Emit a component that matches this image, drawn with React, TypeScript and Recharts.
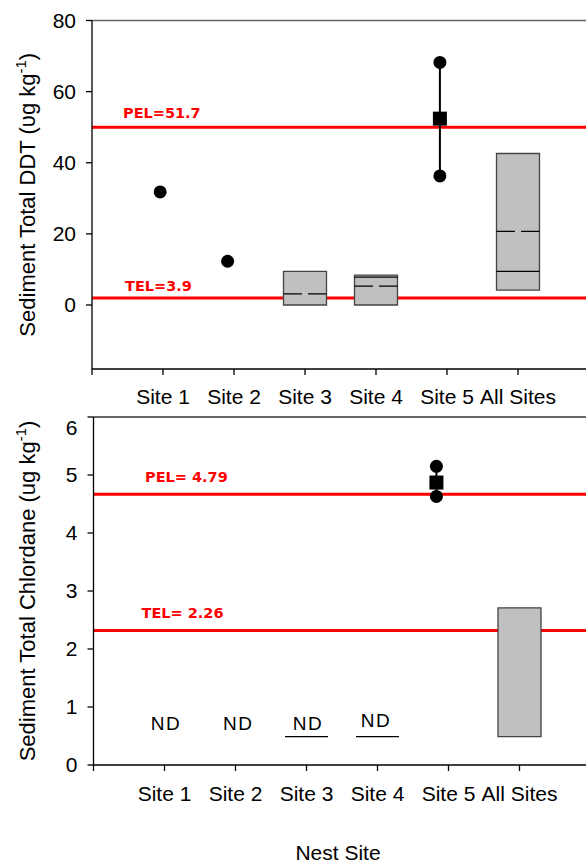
import React from 'react';
import { ComposedChart, XAxis, YAxis, Bar, Scatter, ReferenceLine, ErrorBar } from 'recharts';

// categories on a numeric x axis (0 is the axis origin, unlabeled)
const siteNames = ['', 'Site 1', 'Site 2', 'Site 3', 'Site 4', 'Site 5', 'All Sites'];
const siteTicks = [0, 1, 2, 3, 4, 5, 6];

// ---- top panel: total DDT ----
const ddtTicks = [0, 20, 40, 60, 80];
const ddtSingles = [
  { x: 0.96, y: 31.8 },
  { x: 1.91, y: 12.3 },
];
const ddtSite5Ends = [
  { x: 4.9, y: 36.3 },
  { x: 4.9, y: 68.2 },
];
const ddtSite5Mean = { x: 4.9, y: 52.4 };
const ddtBoxes = [
  { x: 3, range: [0, 9.45] },
  { x: 4, range: [0, 8.4] },
  { x: 6, range: [4.2, 42.6] },
];
const ddtMedians = [
  { x: 4, y: 7.85 },
  { x: 6, y: 9.45 },
];
const ddtMeans = [
  { x: 3, y: 3.1 },
  { x: 4, y: 5.3 },
  { x: 6, y: 20.7 },
];
const ddtPel = 50;
const ddtTel = 2;

// ---- bottom panel: total chlordane ----
const chlTicks = [0, 1, 2, 3, 4, 5, 6];
const chlSite5Ends = [
  { x: 4.83, y: 4.63 },
  { x: 4.83, y: 5.15 },
];
const chlSite5Mean = { x: 4.83, y: 4.87 };
const chlBoxes = [{ x: 6, range: [0.49, 2.71] }];
const chlLimits = [
  { x: 3, y: 0.49 },
  { x: 4, y: 0.49 },
];
const chlNd = [
  { x: 1.02, y: 0.72 },
  { x: 2.04, y: 0.72 },
  { x: 3.02, y: 0.71 },
  { x: 3.98, y: 0.77 },
];
const chlPel = 4.67;
const chlTel = 2.32;

const FONT = '"Liberation Sans", Arial, sans-serif';
const LABEL_FONT = '"DejaVu Sans", sans-serif';

// one row per site so the bars get a full category band
const boxRows = (boxes: { x: number; range: number[] }[]) =>
  siteTicks.slice(1).map((x) => ({ x, range: boxes.find((b) => b.x === x)?.range ?? null }));

const withErr = (m: { x: number; y: number }, ends: { y: number }[]) => [
  { ...m, err: [m.y - ends[0].y, ends[1].y - m.y] },
];

const Dot = (p: any) => <circle cx={p.cx} cy={p.cy} r={6.5} fill="#000" />;
const Square = (p: any) => <rect x={p.cx - 7} y={p.cy - 7} width={14} height={14} fill="#000" />;
const MedianLine = (p: any) => (
  <line x1={p.cx - 21.5} x2={p.cx + 21.5} y1={p.cy} y2={p.cy} stroke="#000" strokeWidth={1.3} />
);
const MeanLine = (p: any) => (
  <line
    x1={p.cx - 21.5}
    x2={p.cx + 21.5}
    y1={p.cy}
    y2={p.cy}
    stroke="#000"
    strokeWidth={1.3}
    strokeDasharray="18.5 6"
  />
);
const NdText = (p: any) => (
  <text
    x={p.cx}
    y={p.cy}
    textAnchor="middle"
    dominantBaseline="central"
    fontSize={19}
    letterSpacing={1.5}
    fontFamily={FONT}
    fill="#000"
  >
    ND
  </text>
);

const RefLabel = ({ viewBox, text, dx, dy }: any) => (
  <text
    x={(viewBox?.x ?? 0) + dx}
    y={(viewBox?.y ?? 0) + dy}
    fill="#ff0000"
    fontSize={14.5}
    fontWeight="bold"
    fontFamily={LABEL_FONT}
  >
    {text}
  </text>
);

const YTitle = ({ viewBox, main, unit }: any) => {
  const x = 35;
  const y = (viewBox?.y ?? 0) + (viewBox?.height ?? 0) / 2;
  return (
    <text
      x={x}
      y={y}
      transform={`rotate(-90 ${x} ${y})`}
      textAnchor="middle"
      fontSize={22}
      fontFamily={FONT}
      fill="#000"
    >
      <tspan>{`${main} (${unit} kg`}</tspan>
      <tspan fontSize={15} dy={-9}>
        -1
      </tspan>
      <tspan dy={9}>)</tspan>
    </text>
  );
};

const XTitle = ({ viewBox }: any) => (
  <text
    x={(viewBox?.x ?? 0) + (viewBox?.width ?? 0) / 2 - 4}
    y={(viewBox?.y ?? 0) + (viewBox?.height ?? 0) - 5}
    textAnchor="middle"
    fontSize={21}
    fontFamily={FONT}
    fill="#000"
  >
    Nest Site
  </text>
);

const axisStyle = { stroke: '#000', strokeWidth: 1.3 };
const tickStyle = { fontSize: 21, fill: '#000', fontFamily: FONT };

export default function App() {
  return (
    <div
      style={{
        position: 'absolute',
        left: 0,
        top: 0,
        width: 586,
        height: 865,
        overflow: 'hidden',
        background: '#fff',
        fontFamily: FONT,
      }}
    >
      <div style={{ position: 'absolute', left: 0, top: 0 }}>
        <ComposedChart
          width={600}
          height={415}
          data={boxRows(ddtBoxes)}
          margin={{ top: 20.5, right: 11, bottom: 0, left: 0 }}
        >
          <XAxis
            dataKey="x"
            type="number"
            domain={[0, 7]}
            ticks={siteTicks}
            interval={0}
            tickFormatter={(v: number) => siteNames[v] ?? ''}
            height={46}
            tickSize={6}
            tickMargin={14}
            axisLine={axisStyle}
            tickLine={axisStyle}
            tick={tickStyle}
          />
          <XAxis xAxisId="box" dataKey="x" type="number" domain={[0, 7]} ticks={siteTicks} hide />
          <YAxis
            type="number"
            domain={[-18, 80]}
            ticks={ddtTicks}
            width={92}
            tickSize={6}
            tickMargin={10}
            axisLine={axisStyle}
            tickLine={axisStyle}
            tick={tickStyle}
            label={<YTitle main="Sediment Total DDT" unit="υg" />}
          />
          <ReferenceLine y={80} stroke="#666" strokeWidth={1.5} />
          <ReferenceLine
            y={ddtPel}
            stroke="#ff0000"
            strokeWidth={3}
            zIndex={250}
            label={<RefLabel text="PEL=51.7" dx={31} dy={-9} />}
          />
          <ReferenceLine
            y={ddtTel}
            stroke="#ff0000"
            strokeWidth={3}
            zIndex={250}
            label={<RefLabel text="TEL=3.9" dx={33} dy={-7} />}
          />
          <Bar
            xAxisId="box"
            dataKey="range"
            barSize={43}
            fill="#c0c0c0"
            stroke="#444"
            strokeWidth={1.3}
            isAnimationActive={false}
          />
          <Scatter data={ddtMedians} dataKey="y" shape={MedianLine} isAnimationActive={false} />
          <Scatter data={ddtMeans} dataKey="y" shape={MeanLine} isAnimationActive={false} />
          <Scatter
            data={withErr(ddtSite5Mean, ddtSite5Ends)}
            dataKey="y"
            shape={Square}
            isAnimationActive={false}
          >
            <ErrorBar dataKey="err" direction="y" width={0} stroke="#000" strokeWidth={2} isAnimationActive={false} />
          </Scatter>
          <Scatter data={ddtSite5Ends} dataKey="y" shape={Dot} isAnimationActive={false} />
          <Scatter data={ddtSingles} dataKey="y" shape={Dot} isAnimationActive={false} />
        </ComposedChart>
      </div>

      <div style={{ position: 'absolute', left: 0, top: 415 }}>
        <ComposedChart
          width={600}
          height={450}
          data={boxRows(chlBoxes)}
          margin={{ top: 2, right: 9.5, bottom: 0, left: 0 }}
        >
          <XAxis
            dataKey="x"
            type="number"
            domain={[0, 7]}
            ticks={siteTicks}
            interval={0}
            tickFormatter={(v: number) => siteNames[v] ?? ''}
            height={100}
            tickSize={6}
            tickMargin={15}
            axisLine={axisStyle}
            tickLine={axisStyle}
            tick={tickStyle}
            label={<XTitle />}
          />
          <XAxis xAxisId="box" dataKey="x" type="number" domain={[0, 7]} ticks={siteTicks} hide />
          <YAxis
            type="number"
            domain={[0, 6]}
            ticks={chlTicks}
            width={93.5}
            tickSize={6}
            tickMargin={10}
            axisLine={axisStyle}
            tickLine={axisStyle}
            tick={tickStyle}
            label={<YTitle main="Sediment Total Chlordane" unit="ug" />}
          />
          <ReferenceLine y={6} stroke="#333" strokeWidth={1.3} />
          <ReferenceLine
            y={chlPel}
            stroke="#ff0000"
            strokeWidth={3}
            zIndex={250}
            label={<RefLabel text="PEL= 4.79" dx={51.5} dy={-12} />}
          />
          <ReferenceLine
            y={chlTel}
            stroke="#ff0000"
            strokeWidth={3}
            zIndex={250}
            label={<RefLabel text="TEL= 2.26" dx={48} dy={-12} />}
          />
          <Bar
            xAxisId="box"
            dataKey="range"
            barSize={43}
            fill="#c0c0c0"
            stroke="#444"
            strokeWidth={1.3}
            isAnimationActive={false}
          />
          <Scatter data={chlLimits} dataKey="y" shape={MedianLine} isAnimationActive={false} />
          <Scatter data={chlNd} dataKey="y" shape={NdText} isAnimationActive={false} />
          <Scatter
            data={withErr(chlSite5Mean, chlSite5Ends)}
            dataKey="y"
            shape={Square}
            isAnimationActive={false}
          >
            <ErrorBar dataKey="err" direction="y" width={0} stroke="#000" strokeWidth={2} isAnimationActive={false} />
          </Scatter>
          <Scatter data={chlSite5Ends} dataKey="y" shape={Dot} isAnimationActive={false} />
        </ComposedChart>
      </div>
    </div>
  );
}
